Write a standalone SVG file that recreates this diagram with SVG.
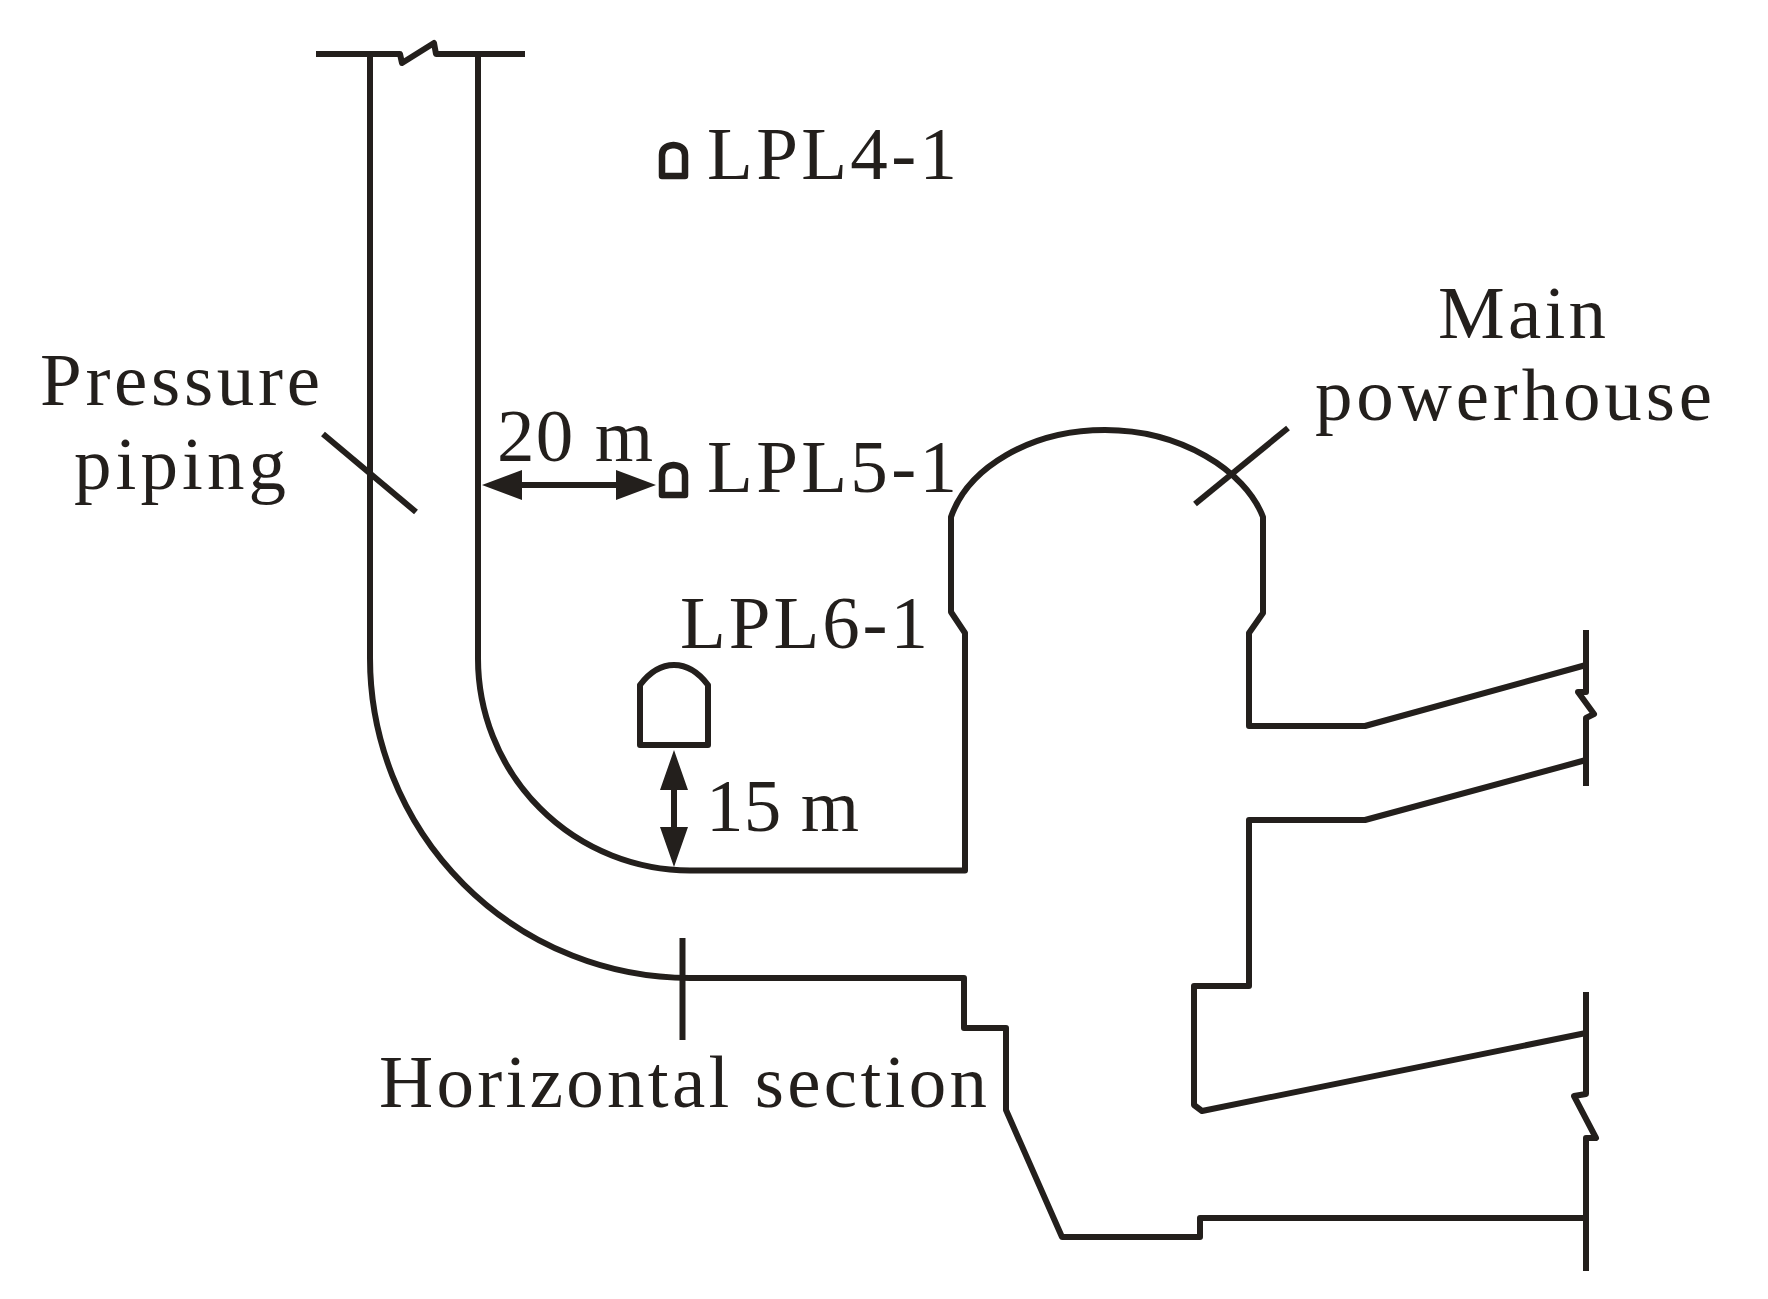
<svg xmlns="http://www.w3.org/2000/svg" width="1768" height="1299" viewBox="0 0 1768 1299">
<style>
.l{fill:none;stroke:#231f1c;stroke-width:6;stroke-linejoin:round}
.b{stroke-width:6.500}
.t{fill:#231f1c;font-family:"Liberation Serif","Times New Roman",serif;font-size:75px}
.a{fill:#231f1c}
</style>
<rect width="1768" height="1299" fill="#fff"/>
<g id="pressure-piping">
<path class="l" d="M316 54H400L402 63L434 43L436 54H525"/>
<path class="l" d="M370 54V658A320 320 0 0 0 690 978"/>
<path class="l" d="M478 54V658A212 212 0 0 0 690 870.500"/>
<path class="l" d="M323 434L416 512"/>
<path class="l" d="M682.500 938V1040"/>
</g>
<g id="main-powerhouse">
<path class="l" d="M690 870.500H965V633L951 612V517C968 468 1030 430 1105 430C1180 430 1245 470 1263 517V613L1249 633V726H1365L1586 665"/>
<path class="l" d="M1586 760L1365 820H1249V986H1194V1105L1202 1111L1586 1033"/>
<path class="l" d="M690 978H964V1028H1006V1110L1062 1237H1200V1218H1586"/>
<path class="l" d="M1586 630V692L1578 692L1594 714L1586 718V786"/>
<path class="l" d="M1586 992V1094L1574 1096L1596 1138L1586 1138V1271"/>
<path class="l" d="M1288 428L1195 504"/>
</g>
<g id="lpl4-1">
<path class="l b" d="M662 176V155Q662 146 673.500 145Q685 146 685 155V176Z"/>
<text class="t" x="707" y="179" textLength="250">LPL4-1</text>
</g>
<g id="lpl5-1">
<path class="l b" d="M662 495V475Q662 466 673.500 465Q685 466 685 475V495Z"/>
<text class="t" x="707" y="492" textLength="250">LPL5-1</text>
</g>
<g id="lpl6-1">
<path class="l" d="M640 745V685Q655 665 674 665Q693 665 708 685V745Z"/>
<text class="t" x="680" y="648" textLength="248">LPL6-1</text>
</g>
<g id="connectors">
<path class="l" d="M515 485H620"/>
<path class="a" d="M482 485L522 470V500ZM656 485L616 470V500Z"/>
<path class="l" d="M674 785V830"/>
<path class="a" d="M674 750L660 790H688ZM674 867L660 827H688Z"/>
</g>
<g id="labels">
<text class="t" x="497" y="461" textLength="156">20 m</text>
<text class="t" x="706" y="831" textLength="153">15 m</text>
<text class="t" x="40" y="405" textLength="280">Pressure</text>
<text class="t" x="74" y="489" textLength="212">piping</text>
<text class="t" x="1438" y="338" textLength="168">Main</text>
<text class="t" x="1315" y="420" textLength="397">powerhouse</text>
<text class="t" x="379" y="1107" textLength="608">Horizontal section</text>
</g>
</svg>
